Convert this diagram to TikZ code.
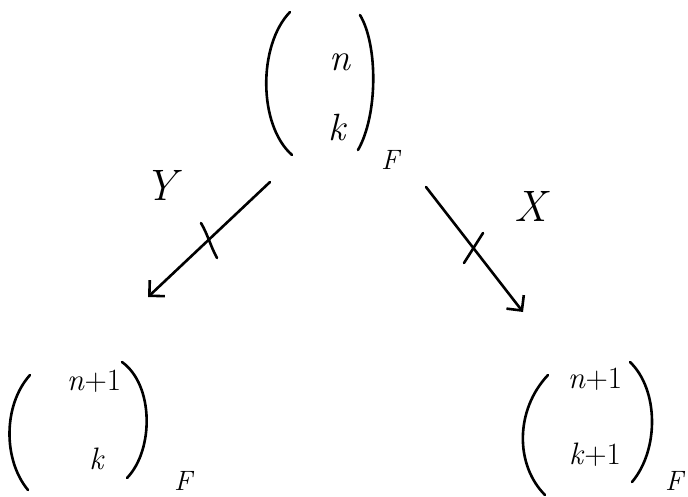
\documentclass[tikz,border=0pt]{standalone}
\usepackage{fontspec}
\usetikzlibrary{arrows.meta}
\begin{document}
\begin{tikzpicture}[x=1pt,y=-1pt,
  ink/.style={line width=2.6pt,line cap=round,line join=round},
  entry/.style={inner sep=0pt,font=\fontsize{38}{40}\selectfont},
  lowentry/.style={inner sep=0pt,font=\fontsize{31}{33}\selectfont},
  sub/.style={inner sep=0pt,font=\fontsize{28}{30}\selectfont\itshape},
  lbl/.style={inner sep=0pt,font=\fontsize{44}{46}\selectfont\itshape},
  arr/.style={ink,-{Straight Barb[length=11pt,width=22pt,line width=2.6pt]}}]
\useasboundingbox (0,0) rectangle (688,497);
% top binomial
\node[entry] (tn) at (340,62) {\textit{n}};
\node[entry] (tk) at (338,128) {\textit{k}};
\node[sub] (tF) at (390,160) {F};
\draw[ink] (290,12) .. controls (258,45) and (258,125) .. (292,155);
\draw[ink] (360,15) .. controls (378,45) and (378,115) .. (358,150);
% bottom left binomial
\node[lowentry] (ln) at (94,381) {\textit{n}+1};
\node[lowentry] (lk) at (97,459) {\textit{k}};
\node[sub] (lF) at (183,481) {F};
\draw[ink] (30,375) .. controls (3,405) and (3,460) .. (28,490);
\draw[ink] (122,362) .. controls (154,385) and (154,450) .. (127,478);
% bottom right binomial
\node[lowentry] (rn) at (595,379) {\textit{n}+1};
\node[lowentry] (rk) at (595,455) {\textit{k}+1};
\node[sub] (rF) at (674,481) {F};
\draw[ink] (548,375) .. controls (515,410) and (515,465) .. (545,495);
\draw[ink] (630,362) .. controls (659,390) and (659,450) .. (632,482);
% arrow endpoints
\coordinate (ys) at (270,182);
\coordinate (ye) at (148,297);
\coordinate (xs) at (426,187);
\coordinate (xe) at (523,312);
\draw[arr] (ys) -- (ye);
\draw[arr] (xs) -- (xe);
% ticks
\coordinate (yt1) at (201,223);
\coordinate (yt2) at (217,258);
\coordinate (xt1) at (483,233);
\coordinate (xt2) at (464,263);
\draw[ink] (yt1) .. controls (208,235) and (210,245) .. (yt2);
\draw[ink] (xt1) -- (xt2);
% labels
\node[lbl] (Y) at (160,185) {Y};
\node[lbl] (X) at (530,206) {X};
\end{tikzpicture}
\end{document}
